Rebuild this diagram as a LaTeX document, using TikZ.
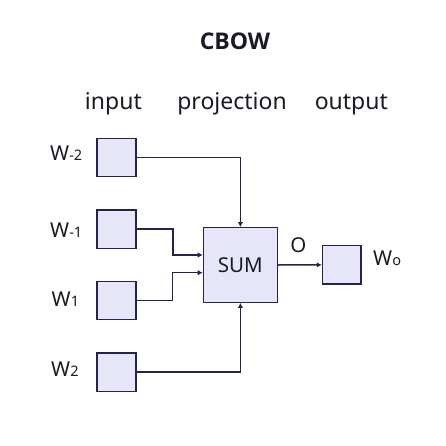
\documentclass[tikz,border=0pt]{standalone}
\usepackage{fontspec}
\setmainfont{Noto Sans}
\newfontfamily\titlefont{Open Sans}
\usetikzlibrary{arrows.meta}
\definecolor{boxfill}{HTML}{E6E6F8}
\definecolor{ink}{HTML}{23234D}
\definecolor{txt}{HTML}{1A1A24}
\newcommand{\sz}[1]{\fontsize{#1}{#1}\selectfont}
\newcommand{\wl}[1]{W{\sz{14.5}#1}}
\tikzset{
  vbox/.style={draw=ink, fill=boxfill, line width=1.4pt, inner sep=0pt},
  wire/.style={draw=ink, line width=1.5pt, -{Latex[length=5pt,width=5.5pt]}},
  lbl/.style={text=txt, inner sep=0pt, font=\sz{20.5}},
  head/.style={text=txt, inner sep=0pt, anchor=base, font=\sz{23}}
}
\begin{document}
\begin{tikzpicture}[x=1pt,y=-1pt]
\path[use as bounding box, fill=white] (0,0) rectangle (445,446);
% headings
\node[head, font=\titlefont\bfseries\sz{23}] (title) at (235,50) {CBOW};
\node[head] (hin) at (113.4,110) {input};
\node[head] (hproj) at (232,110) {projection};
\node[head] (hout) at (351.3,110) {output};
% boxes
\node[vbox, minimum width=39pt, minimum height=38.5pt] (wm2) at (116.5,157.5) {};
\node[vbox, minimum width=39pt, minimum height=38.5pt] (wm1) at (116.5,229.2) {};
\node[vbox, minimum width=39pt, minimum height=38.5pt] (w1) at (116.5,300.5) {};
\node[vbox, minimum width=39pt, minimum height=38.5pt] (w2) at (116.5,372.2) {};
\node[vbox, minimum width=74pt, minimum height=74.5pt, font=\sz{20.5}, text=txt] (sum) at (240.4,265) {SUM};
\node[vbox, minimum width=38.5pt, minimum height=38.5pt] (out) at (341.7,264.9) {};
% labels
\node[lbl, anchor=base west] (lwm2) at (50,160.7) {\wl{-2}};
\node[lbl, anchor=base west] (lwm1) at (50,237) {\wl{-1}};
\node[lbl, anchor=base west] (lw1) at (51.5,306) {\wl{1}};
\node[lbl, anchor=base west] (lw2) at (51,376.7) {\wl{2}};
\node[lbl, anchor=base west] (lwo) at (373,265) {\wl{o}};
\node[lbl] (lo) at (298.3,245) {O};
% junctions
\coordinate (j1) at (173,255);
\coordinate (j2) at (172.5,272.7);
% connectors
\draw[wire] (wm2.east) -| (sum.north);
\draw[wire] (wm1.east) -| (j1) -- (sum.west |- j1);
\draw[wire] (w1.east) -| (j2) -- (sum.west |- j2);
\draw[wire] (w2.east) -| (sum.south);
\draw[wire] (sum.east) -- (out.west);
\end{tikzpicture}
\end{document}
